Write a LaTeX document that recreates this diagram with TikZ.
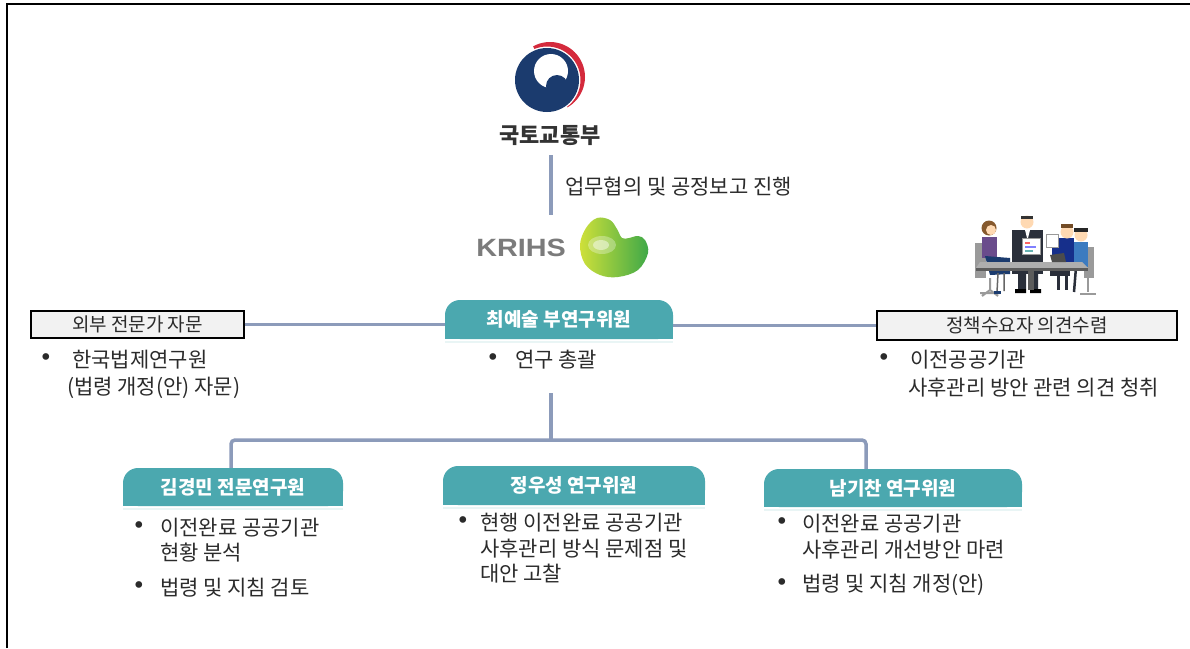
\documentclass[tikz,border=0pt]{standalone}
\usepackage{fontspec}
\setmainfont{Noto Sans CJK KR}
\newfontfamily\latinsans{Liberation Sans}
\newfontfamily\bulfont{DejaVu Sans}
\definecolor{tealc}{HTML}{4BA8AF}
\definecolor{connc}{HTML}{8C9BBA}
\definecolor{navyc}{HTML}{1B3B6E}
\definecolor{redc}{HTML}{D42A3C}
\definecolor{txtc}{HTML}{2B2B2B}
\definecolor{boxfill}{HTML}{F2F2F2}
\definecolor{krihsgray}{HTML}{7B7B7B}
\definecolor{lime}{HTML}{CFE03A}
\definecolor{leaf}{HTML}{3DA848}
\definecolor{suit}{HTML}{2A2F3A}
\definecolor{purp}{HTML}{6A4C8C}
\definecolor{bluesh}{HTML}{3C7BC0}
\definecolor{chair}{HTML}{9A9A9A}
\begin{document}
\begin{tikzpicture}[x=1pt,y=-1pt,
  conn/.style={draw=connc, line width=3.5pt},
  graybox/.style={draw=black, line width=1.3pt, fill=boxfill, inner sep=0pt, text=txtc, font=\fontsize{19}{21}\selectfont},
  tealbox/.style={fill=tealc, rounded corners=15pt, inner sep=0pt, text=white, font=\bfseries\fontsize{19}{21}\selectfont},
  body/.style={anchor=west, inner sep=0pt, text=txtc, font=\fontsize{21}{24}\selectfont},
  bul/.style={anchor=center, inner sep=0pt, text=txtc, font=\bulfont\fontsize{23}{25}\selectfont},
  fadeline/.style={fill=tealc!12}]
\useasboundingbox (0,0) rectangle (1190,648);
\fill[white] (0,0) rectangle (1190,648);
% frame
\draw[line width=2pt, black] (7,648) -- (7,4) -- (1190,4);

% ---------- government logo ----------
\begin{scope}
  \clip (549,77) -- (522,25) -- (610,25) -- (610,125) -- (578,125) -- cycle;
  \fill[redc, even odd rule] (550,77) circle (35) (547,80) circle (33.5);
\end{scope}
\fill[navyc] (547,80) circle (32);
\fill[white] (551,71) circle (17);
\fill[navyc] (557,86) circle (11);

\node[font=\bfseries\fontsize{22}{24}\selectfont, text=black!80, inner sep=0pt] (mot) at (550,136) {국토교통부};
\coordinate (vtop) at (551,155);
\coordinate (vbot) at (551,215);
\draw[conn] (vtop) -- (vbot);
\node[anchor=west, inner sep=0pt, text=txtc, font=\fontsize{21}{23}\selectfont] (lab) at (565,187) {업무협의 및 공정보고 진행};

% ---------- KRIHS ----------
\node[font=\latinsans\bfseries\fontsize{25}{27}\selectfont, text=krihsgray, inner sep=0pt] (krihs) at (521,248) {\scalebox{1.15}[1]{KRIHS}};
\shade[left color=lime, right color=leaf]
  plot[smooth cycle, tension=0.6] coordinates {(597,218) (586,228) (580,245) (585,264) (600,275) (618,277) (638,270) (648,253) (645,240) (638,236) (629,238) (622,238) (617,229) (610,220)};
\fill[white, opacity=0.3] (602,245) ellipse [x radius=14, y radius=9];
\fill[white, opacity=0.45] (601,245) ellipse [x radius=8, y radius=5];

% ---------- meeting illustration ----------
% chairs
\fill[chair] (975,243) rectangle (986,278);
\fill[chair] (1084,247) rectangle (1094,278);
\draw[chair, line width=2pt] (990,278) -- (990,290) (980,293) -- (1000,293) (990,290) -- (982,296) (990,290) -- (998,296);
\draw[chair, line width=2pt] (1088,278) -- (1088,292) (1080,294) -- (1096,294);
% woman left
\fill[purp] (982,237) rectangle (997,258);
\fill[navyc] (985,256) -- (1010,258) -- (1010,274) -- (990,275) -- cycle;
\draw[black!60, line width=1.5pt] (998,273) -- (997,292) (1004,273) -- (1004,291);
\fill[navyc] (994,291) rectangle (1001,294);
\fill[brown!70!black] (989,228) circle (7.5);
\fill[orange!30!white] (991,230) circle (5);
% standing man
\fill[suit] (1012,230) rectangle (1043,274);
\fill[white] (1025,230) -- (1030,230) -- (1027.5,240) -- cycle;
\fill[suit] (1018,274) rectangle (1026,289) (1030,274) rectangle (1038,289);
\fill[black] (1015,289) rectangle (1026,293) (1030,289) rectangle (1041,293);
\fill[orange!30!white] (1027,222) circle (6.5);
\fill[black!80] (1021,216) rectangle (1033,219);
\fill[white, draw=black!40] (1022,238) rectangle (1040,254);
\fill[red!60] (1025,242) rectangle (1030,244);
\fill[blue!50] (1025,246) rectangle (1036,248);
\fill[teal!60] (1025,250) rectangle (1033,252);
% right man
\fill[navyc!80!blue] (1052,238) rectangle (1074,266);
\fill[suit] (1050,266) rectangle (1070,276);
\draw[suit, line width=3pt] (1058,276) -- (1058,290) (1066,276) -- (1066,290);
\fill[orange!30!white] (1067,232) circle (6.5);
\fill[brown!60!black] (1061,224) rectangle (1073,228);
\fill[white, draw=black!40] (1046,234) rectangle (1058,247);
% far-right woman
\fill[bluesh] (1074,242) rectangle (1088,267);
\fill[orange!30!white] (1081,235) circle (6.5);
\fill[black!85] (1074,228) rectangle (1088,232);
\draw[suit, line width=2.5pt] (1076,267) -- (1074,292);
% table
\fill[chair!80] (980,262) -- (1082,262) -- (1088,268) -- (976,268) -- cycle;
\fill[chair!60!black] (976,268) rectangle (1088,271);
\fill[black!70] (1050,255) -- (1064,253) -- (1066,262) -- (1052,262) -- cycle;
\fill[chair!60!black] (1028,271) rectangle (1034,290);

% ---------- middle row ----------
\node[graybox, minimum width=213pt, minimum height=27pt] (ext) at (137.5,324.5) {외부 전문가 자문};
\node[graybox, minimum width=300pt, minimum height=29pt] (pol) at (1027,325.5) {정책수요자 의견수렴};
\fill[tealc] (445,322) rectangle (673,339);
\node[tealbox, minimum width=228pt, minimum height=39pt] (lead) at (559,319.5) {최예술 부연구위원};
\fill[fadeline] (445,341) rectangle (673,343);
\draw[conn] (ext.east) -- (ext.east -| lead.west);
\draw[conn] (pol.west -| lead.east) -- (pol.west);

\node[bul] (b1) at (46,360) {•};
\node[body] (t1) at (72,360) {한국법제연구원};
\node[body] (t2) at (67,388) {(법령 개정(안) 자문)};
\node[bul] (b2) at (493,360) {•};
\node[body] (t3) at (515,360) {연구 총괄};
\node[bul] (b3) at (884,360) {•};
\node[body] (t4) at (910,360) {이전공공기관};
\node[body] (t5) at (908,388) {사후관리 방안 관련 의견 청취};

% ---------- tree ----------
\coordinate (vc) at (551,393);
\coordinate (hc) at (551,440);
\coordinate (jl) at (231,469);
\coordinate (jr) at (866,471);
\draw[conn] (vc) -- (hc);
\draw[conn, rounded corners=4pt] (jl) -- (jl |- hc) -- (jr |- hc) -- (jr);

% ---------- bottom boxes ----------
\fill[tealc] (123,488) rectangle (343,506);
\node[tealbox, minimum width=220pt, minimum height=38pt] (m1) at (233,487) {김경민 전문연구원};
\fill[fadeline] (123,508) rectangle (343,510);
\fill[tealc] (443,487) rectangle (705,505);
\node[tealbox, minimum width=262pt, minimum height=39pt] (m2) at (574,485.5) {정우성 연구위원};
\fill[fadeline] (443,507) rectangle (705,509);
\fill[tealc] (764,490) rectangle (1022,507);
\node[tealbox, minimum width=258pt, minimum height=38pt] (m3) at (893,488) {남기찬 연구위원};
\fill[fadeline] (764,509) rectangle (1022,511);

\node[bul] (c1) at (139,528) {•};
\node[body] (u1) at (160,528) {이전완료 공공기관};
\node[body] (u2) at (160,553) {현황 분석};
\node[bul] (c2) at (139,588) {•};
\node[body] (u3) at (160,588) {법령 및 지침 검토};

\node[bul] (c3) at (463,523) {•};
\node[body] (w1) at (480,523) {현행 이전완료 공공기관};
\node[body] (w2) at (480,549) {사후관리 방식 문제점 및};
\node[body] (w3) at (480,574) {대안 고찰};

\node[bul] (c4) at (782,524) {•};
\node[body] (z1) at (802,524) {이전완료 공공기관};
\node[body] (z2) at (802,550) {사후관리 개선방안 마련};
\node[bul] (c5) at (782,585) {•};
\node[body] (z3) at (802,585) {법령 및 지침 개정(안)};
\end{tikzpicture}
\end{document}
